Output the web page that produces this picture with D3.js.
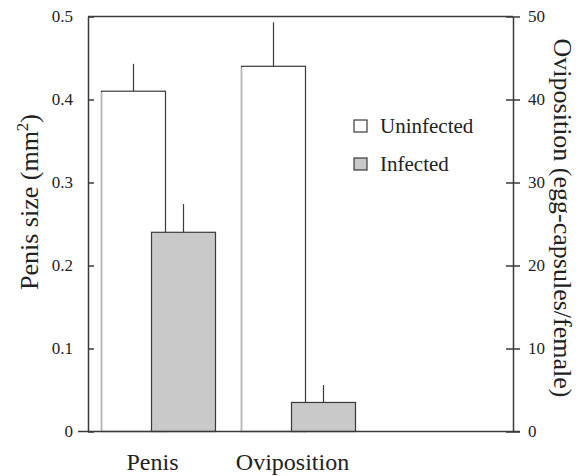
<!DOCTYPE html>
<html lang="en">
<head>
<meta charset="utf-8">
<script src="https://d3js.org/d3.v7.min.js"></script>
<style>
  body { margin: 0; background: #fff; }
  svg text { font-family: "Liberation Serif", "Times New Roman", serif; fill: #222; }
</style>
</head>
<body>
<div id="chart"></div>
<script>
// values
var categories = ["Penis", "Oviposition"];
var uninfected = [0.41, 44];
var uninfectedErr = [0.033, 5.3];
var infected = [0.24, 3.5];
var infectedErr = [0.034, 2.1];
var leftTicks = [0, 0.1, 0.2, 0.3, 0.4, 0.5];
var rightTicks = [0, 10, 20, 30, 40, 50];
var legendLabels = ["Uninfected", "Infected"];

var width = 581, height = 476;
var plotLeft = 88, plotRight = 513, plotTop = 16.5, plotBottom = 431.5;

var svg = d3.select("#chart").append("svg")
    .attr("width", width)
    .attr("height", height);

var x = d3.scaleBand().domain(categories).range([101.5, 381.5]);
var barW = 64, shift = 50;

// penis on left axis, oviposition on right axis
var yLeft = d3.scaleLinear().domain([0, 0.5]).range([plotBottom, plotTop]);
var yRight = d3.scaleLinear().domain([0, 50]).range([plotBottom, plotTop]);
function yFor(i) { return i == 0 ? yLeft : yRight; }

var stroke = "#3a3a3a";

// uninfected bars
categories.forEach(function(c, i) {
    var y = yFor(i);
    var x0 = x(c);
    svg.append("line")
        .attr("x1", x0 + barW / 2).attr("x2", x0 + barW / 2)
        .attr("y1", y(uninfected[i])).attr("y2", y(uninfected[i] + uninfectedErr[i]))
        .attr("stroke", stroke).attr("stroke-width", 1.2);
    svg.append("rect")
        .attr("x", x0).attr("y", y(uninfected[i]))
        .attr("width", barW).attr("height", y(0) - y(uninfected[i]))
        .attr("fill", "#fff").attr("stroke", stroke).attr("stroke-width", 1.2);
    // faint left edge as in the scan
    svg.append("line")
        .attr("x1", x0).attr("x2", x0)
        .attr("y1", y(uninfected[i]) + 1).attr("y2", y(0))
        .attr("stroke", "#b5b5b5").attr("stroke-width", 1.4);
});

// infected bars, drawn over the others
categories.forEach(function(c, i) {
    var y = yFor(i);
    var x0 = x(c) + shift;
    svg.append("line")
        .attr("x1", x0 + barW / 2).attr("x2", x0 + barW / 2)
        .attr("y1", y(infected[i])).attr("y2", y(infected[i] + infectedErr[i]))
        .attr("stroke", stroke).attr("stroke-width", 1.2);
    svg.append("rect")
        .attr("x", x0).attr("y", y(infected[i]))
        .attr("width", barW).attr("height", y(0) - y(infected[i]))
        .attr("fill", "#c9c9c9").attr("stroke", stroke).attr("stroke-width", 1.2);
});

// axes
var gl = svg.append("g")
    .attr("transform", "translate(" + plotLeft + ",0)")
    .call(d3.axisLeft(yLeft).tickValues(leftTicks)
        .tickFormat(function(d) { return d == 0 ? "0" : d.toFixed(1); })
        .tickSizeInner(6).tickSizeOuter(0).tickPadding(9));
gl.selectAll(".tick line").attr("x2", 6);

var gr = svg.append("g")
    .attr("transform", "translate(" + plotRight + ",0)")
    .call(d3.axisRight(yRight).tickValues(rightTicks)
        .tickSizeInner(7).tickSizeOuter(0).tickPadding(8));
gr.selectAll(".tick line").attr("x1", -7);

svg.selectAll(".domain").attr("stroke", stroke).attr("stroke-width", 1.5);
svg.selectAll(".tick line").attr("stroke", stroke).attr("stroke-width", 1.5);
svg.selectAll(".tick text")
    .style("font-family", "Liberation Serif, serif")
    .style("font-size", "17px").attr("fill", "#222");

// frame lines
svg.append("line").attr("x1", plotLeft).attr("x2", plotRight).attr("y1", plotTop).attr("y2", plotTop)
    .attr("stroke", stroke).attr("stroke-width", 1.5);
svg.append("line").attr("x1", 78).attr("x2", 520).attr("y1", plotBottom).attr("y2", plotBottom)
    .attr("stroke", stroke).attr("stroke-width", 1.5);

// category labels
svg.selectAll(".cat").data(categories).enter().append("text")
    .attr("class", "cat")
    .attr("x", function(d) { return x(d) + barW / 2 + 19; })
    .attr("y", 470)
    .attr("text-anchor", "middle")
    .style("font-size", "24px")
    .text(function(d) { return d; });

// axis titles
var lt = svg.append("text")
    .attr("transform", "translate(38,202) rotate(-90)")
    .attr("text-anchor", "middle")
    .style("font-size", "26px");
lt.append("tspan").text("Penis size (mm");
lt.append("tspan").attr("dy", -10).style("font-size", "17px").text("2");
lt.append("tspan").attr("dy", 10).text(")");

svg.append("text")
    .attr("transform", "translate(554,218) rotate(90)")
    .attr("text-anchor", "middle")
    .style("font-size", "26px")
    .text("Oviposition (egg-capsules/female)");

// legend
var legend = svg.selectAll(".leg").data(legendLabels).enter().append("g")
    .attr("class", "leg")
    .attr("transform", function(d, i) { return "translate(354," + (120 + i * 38) + ")"; });
legend.append("rect")
    .attr("width", 13).attr("height", 12)
    .attr("fill", function(d, i) { return i == 0 ? "#fff" : "#c9c9c9"; })
    .attr("stroke", stroke).attr("stroke-width", 1.2);
legend.append("text")
    .attr("x", 26).attr("y", 12.5)
    .style("font-size", "21px")
    .text(function(d) { return d; });
</script>
</body>
</html>
